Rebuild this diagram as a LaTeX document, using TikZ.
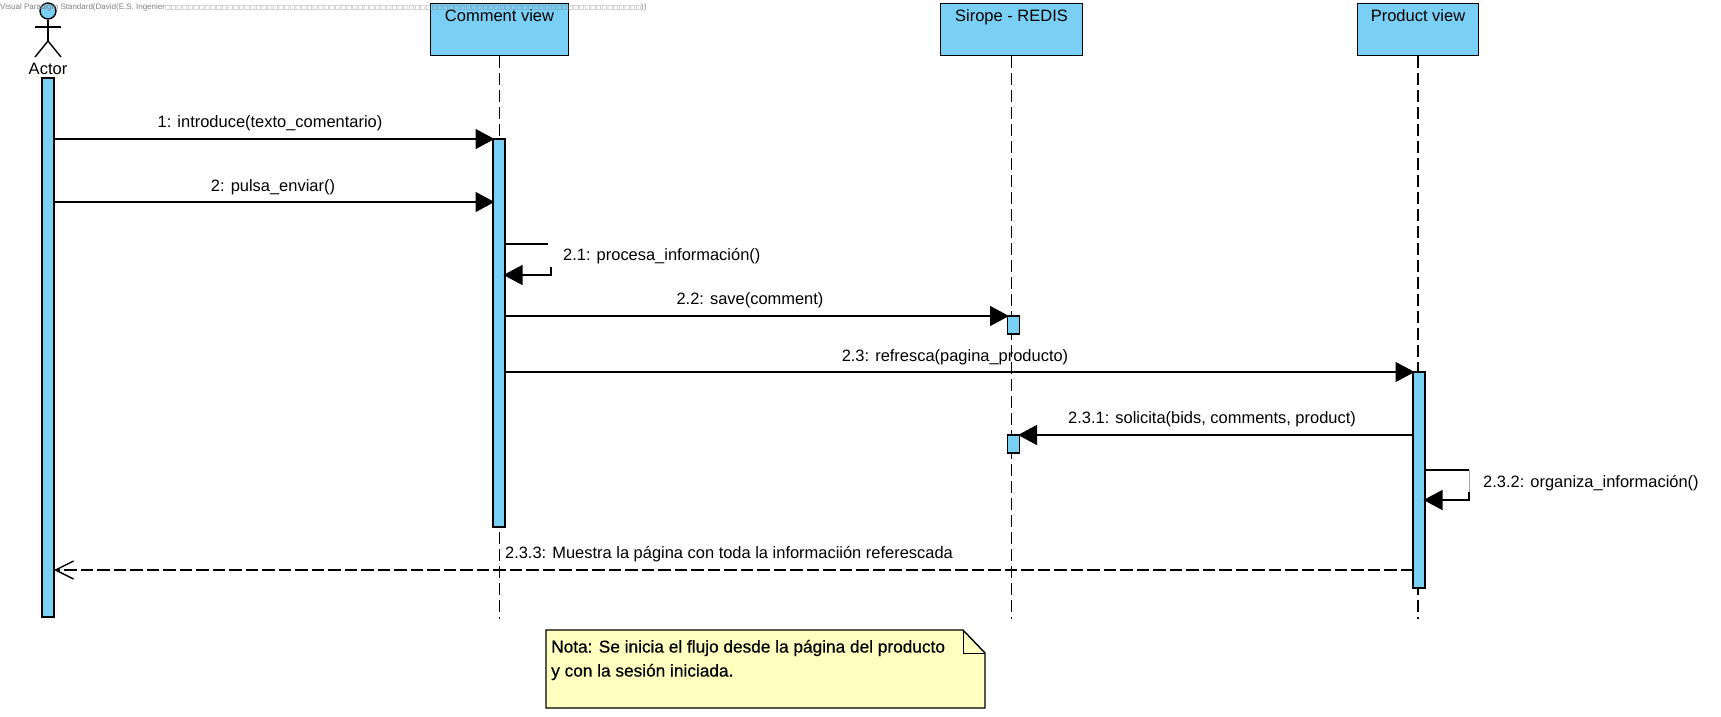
\documentclass[tikz,border=0pt]{standalone}
\usepackage{fontspec}
\setmainfont{Liberation Sans}
\newfontfamily\boxfont{DejaVu Sans}
\newfontfamily\notefont[FakeBold=0.6]{Liberation Sans}
\usetikzlibrary{arrows.meta}
\definecolor{lifeblue}{HTML}{7ACFF5}
\definecolor{noteyellow}{HTML}{FFFFC0}
\tikzset{
	lifebox/.style={shape=rectangle, draw, line width=1.4pt, fill=lifeblue, anchor=north, font=\fontsize{16.5}{19}\selectfont, inner ysep=3pt, text height=15pt, text depth=31pt},
	lifeline/.style={line width=1.3pt, dash pattern=on 12pt off 5pt},
	activebar/.style={shape=rectangle, draw, line width=1.4pt, fill=lifeblue, inner sep=0pt, outer sep=0pt, minimum width=12pt},
	msg/.style={line width=1.4pt, shorten >=-1.5pt, -{Triangle[length=19pt,width=20pt]}},
	backmsg/.style={line width=1.4pt, dash pattern=on 12.5pt off 4pt, -{Straight Barb[length=18pt,width=18pt]}},
	msglabel/.style={font=\fontsize{16.45}{19}\selectfont, inner sep=0pt},
}
\begin{document}
\begin{tikzpicture}[x=1pt, y=-1pt]
	\useasboundingbox (0, 0) rectangle (1721, 716);

	\node[lifebox, minimum width=138pt] (comment) at (499.5, 3) {Comment view};
	\node[lifebox, minimum width=142pt] (sirope) at (1011.5, 3) {Sirope - REDIS};
	\node[lifebox, minimum width=121pt] (product) at (1418, 3) {Product view};

	\coordinate (commentend) at (499.5, 619);
	\coordinate (siropeend) at (1011.5, 619);
	\coordinate (productend) at (1418, 619);
	\draw[lifeline] (comment.south) -- (commentend);
	\draw[lifeline] (sirope.south) -- (siropeend);
	\draw[lifeline] (product.south) -- (productend);

	\node[shape=circle, draw, line width=1.4pt, fill=lifeblue, inner sep=0pt, minimum size=16pt] (head) at (48, 11) {};
	\coordinate (hip) at (48, 41);
	\coordinate (armL) at (35, 27);
	\coordinate (armR) at (61, 27);
	\coordinate (armM) at (48, 27);
	\coordinate (legL) at (35, 57);
	\coordinate (legR) at (61, 57);
	\draw[line width=1.4pt] (head.south) -- (hip);
	\draw[line width=1.4pt] (armL) -- (armR);
	\draw[line width=1.4pt] (legL) -- (hip) -- (legR);
	\node[font=\fontsize{16.5}{19}\selectfont, inner sep=0pt] (actor) at (48, 68.5) {Actor};

	\node[activebar, minimum height=539pt] (actorbar) at (48, 347.5) {};
	\node[activebar, minimum height=388pt] (commentbar) at (499, 333) {};
	\node[activebar, minimum height=18pt] (siropebarA) at (1013.5, 325) {};
	\node[activebar, minimum height=18pt] (siropebarB) at (1013.5, 444) {};
	\node[activebar, minimum height=216pt] (productbar) at (1419, 480) {};

	\coordinate (a1) at (actorbar.east |- 0, 139);
	\coordinate (a2) at (actorbar.east |- 0, 202);
	\coordinate (a3) at (actorbar.east |- 0, 570);
	\coordinate (c2) at (commentbar.west |- 0, 202);
	\coordinate (c21top) at (commentbar.east |- 0, 244);
	\coordinate (c21corner) at (548, 244);
	\coordinate (c21low) at (551, 267);
	\coordinate (c21bend) at (551, 275);
	\coordinate (c21tip) at (commentbar.east |- 0, 275);
	\coordinate (c22) at (commentbar.east |- 0, 316);
	\coordinate (c23) at (commentbar.east |- 0, 372);
	\coordinate (p231) at (productbar.west |- 0, 435);
	\coordinate (p232top) at (productbar.east |- 0, 470);
	\coordinate (p232corner) at (1469, 470);
	\coordinate (p232low) at (1469, 492);
	\coordinate (p232bend) at (1469, 500);
	\coordinate (p232tip) at (productbar.east |- 0, 500);
	\coordinate (p233) at (productbar.west |- 0, 570);

	\draw[msg] (a1) -- (commentbar.north west);
	\draw[msg] (a2) -- (c2);
	\draw[line width=1.4pt] (c21top) -- (c21corner);
	\draw[msg] (c21low) -- (c21bend) -- (c21tip);
	\draw[msg] (c22) -- (siropebarA.north west);
	\draw[msg] (c23) -- (productbar.north west);
	\draw[msg] (p231) -- (siropebarB.north east);
	\draw[line width=1.4pt] (p232top) -- (p232corner);
	\draw[line width=0.8pt, gray!70] (p232corner) -- (p232low);
	\draw[msg] (p232low) -- (p232bend) -- (p232tip);
	\draw[backmsg] (p233) -- (a3);

	\node[msglabel] (m1) at (270, 123.5) {1: introduce(texto\_comentario)};
	\node[msglabel] (m2) at (273, 187) {2: pulsa\_enviar()};
	\node[msglabel, anchor=west] (m21) at (563, 256.5) {2.1: procesa\_información()};
	\node[msglabel] (m22) at (750, 300.5) {2.2: save(comment)};
	\node[msglabel] (m23) at (955, 357) {2.3: refresca(pagina\_producto)};
	\node[msglabel] (m231) at (1212, 419.5) {2.3.1: solicita(bids, comments, product)};
	\node[msglabel, anchor=west] (m232) at (1483, 483.5) {2.3.2: organiza\_información()};
	\node[msglabel] (m233) at (729, 554.5) {2.3.3: Muestra la página con toda la informaciión referescada};

	\coordinate (noteNW) at (546, 630);
	\coordinate (noteFold) at (963, 630);
	\coordinate (noteE) at (985, 653);
	\coordinate (noteSE) at (985, 708);
	\coordinate (noteSW) at (546, 708);
	\coordinate (noteCorner) at (963, 653);
	\fill[noteyellow] (noteNW) -- (noteFold) -- (noteE) -- (noteSE) -- (noteSW) -- cycle;
	\draw[line width=1.4pt] (noteNW) -- (noteFold) -- (noteE) -- (noteSE) -- (noteSW) -- cycle;
	\draw[line width=1pt] (noteFold) -- (noteCorner) -- (noteE);
	\node[anchor=west, inner sep=0pt, font=\fontsize{17.25}{19}\notefont] (noteA) at (551, 648) {Nota: Se inicia el flujo desde la página del producto};
	\node[anchor=west, inner sep=0pt, font=\fontsize{17.25}{19}\notefont] (noteB) at (551, 672) {y con la sesión iniciada.};

	\node[anchor=west, inner sep=0pt, text=gray, font=\fontsize{8}{9}\selectfont] (mark) at (0, 7) {Visual Paradigm Standard(David(E.S. Ingenier{\boxfont\fontsize{6}{9}\selectfont\foreach \i in {1,...,84}{□}}))};
\end{tikzpicture}
\end{document}
